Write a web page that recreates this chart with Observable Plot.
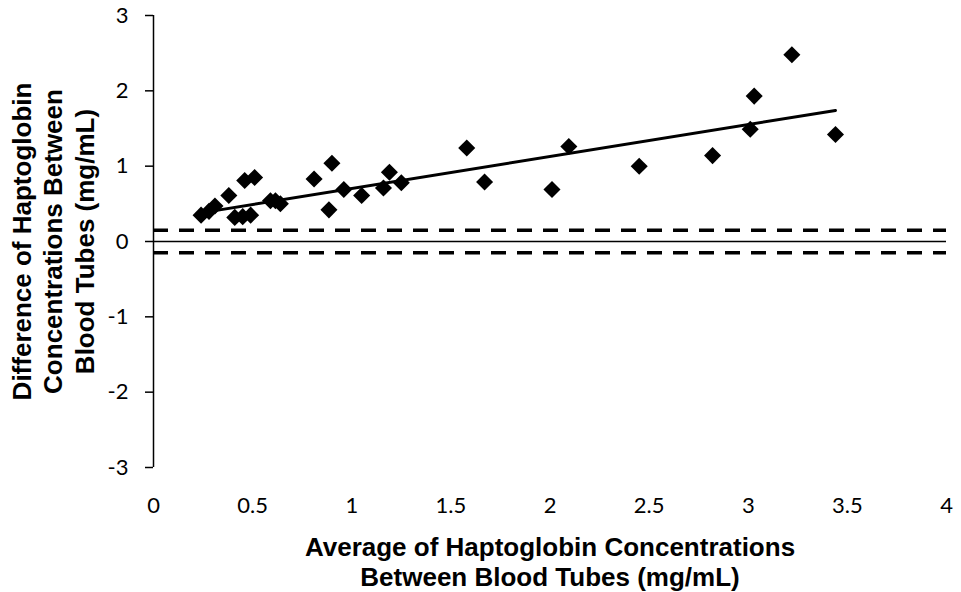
<!DOCTYPE html>
<html><head><meta charset="utf-8">
<script src="https://cdn.jsdelivr.net/npm/d3@7"></script>
<script src="https://cdn.jsdelivr.net/npm/@observablehq/plot@0.6"></script>
<style>body{margin:0;background:#fff}</style>
</head><body><div id="chart"></div>
<script>
// Average of haptoglobin concentrations (mg/mL)
const avgConc  = [0.24, 0.28, 0.31, 0.38, 0.41, 0.45, 0.46, 0.49, 0.51, 0.59, 0.615, 0.64, 0.81, 0.885, 0.90, 0.96, 1.05, 1.16, 1.19, 1.25, 1.58, 1.67, 2.01, 2.095, 2.45, 2.82, 3.01, 3.03, 3.22, 3.44];
// Difference of haptoglobin concentrations (mg/mL)
const diffConc = [0.35, 0.40, 0.47, 0.61, 0.32, 0.33, 0.81, 0.35, 0.85, 0.54, 0.54, 0.50, 0.83, 0.42, 1.04, 0.69, 0.61, 0.71, 0.92, 0.78, 1.24, 0.79, 0.69, 1.26, 1.00, 1.14, 1.49, 1.93, 2.48, 1.42];
// Linear trend line end points
const trendX = [0.24, 3.44];
const trendY = [0.38, 1.74];
// Reference lines
const zeroLine = [0];
const limitLines = [0.15, -0.15];
// Ticks
const xTicks = [0, 0.5, 1, 1.5, 2, 2.5, 3, 3.5, 4];
const yTicks = [-3, -2, -1, 0, 1, 2, 3];
const xTitle = "Average of Haptoglobin Concentrations\nBetween Blood Tubes (mg/mL)";
const yTitle = "Difference of Haptoglobin\nConcentrations Between\nBlood Tubes (mg/mL)";

const points = avgConc.map((x, i) => ({x, y: diffConc[i]}));
const trend = trendX.map((x, i) => ({x, y: trendY[i]}));

const chart = Plot.plot({
  width: 961,
  height: 592,
  marginLeft: 153,
  marginRight: 15,
  marginTop: 15,
  marginBottom: 125,
  style: {fontFamily: "Lato, 'Open Sans', sans-serif", fontSize: "22px", color: "#000", background: "#fff"},
  x: {domain: [0, 4]},
  y: {domain: [-3, 3]},
  marks: [
    Plot.axisX({ticks: xTicks, tickSize: 0, tickPadding: 30, tickFormat: d => String(d), label: null, fontSize: 22}),
    Plot.axisY({ticks: yTicks, tickSize: 8, tickPadding: 17, tickFormat: d => String(d), label: null, strokeWidth: 1.5, fontSize: 22}),
    Plot.ruleX([0], {y1: yTicks[0], y2: yTicks[yTicks.length - 1], stroke: "#000", strokeWidth: 1.5}),
    Plot.ruleY(zeroLine, {stroke: "#000", strokeWidth: 1.4}),
    Plot.ruleY(limitLines, {stroke: "#000", strokeWidth: 3.5, strokeDasharray: "15,11"}),
    Plot.line(trend, {x: "x", y: "y", stroke: "#000", strokeWidth: 3}),
    Plot.dot(points, {x: "x", y: "y", symbol: "square", r: 6.8, rotate: 45, fill: "#000", stroke: "none"}),
    Plot.text([xTitle], {frameAnchor: "bottom", dy: 94, lineAnchor: "middle", textAnchor: "middle",
      fontFamily: "'Liberation Sans', Arial, sans-serif", fontWeight: "bold", fontSize: 26, lineHeight: 1.15, fill: "#000"}),
    Plot.text([yTitle], {frameAnchor: "left", dx: -101, rotate: -90, lineAnchor: "middle", textAnchor: "middle",
      fontFamily: "'Liberation Sans', Arial, sans-serif", fontWeight: "bold", fontSize: 26, lineHeight: 1.2, fill: "#000"})
  ]
});
document.getElementById("chart").appendChild(chart);
</script>
</body></html>
